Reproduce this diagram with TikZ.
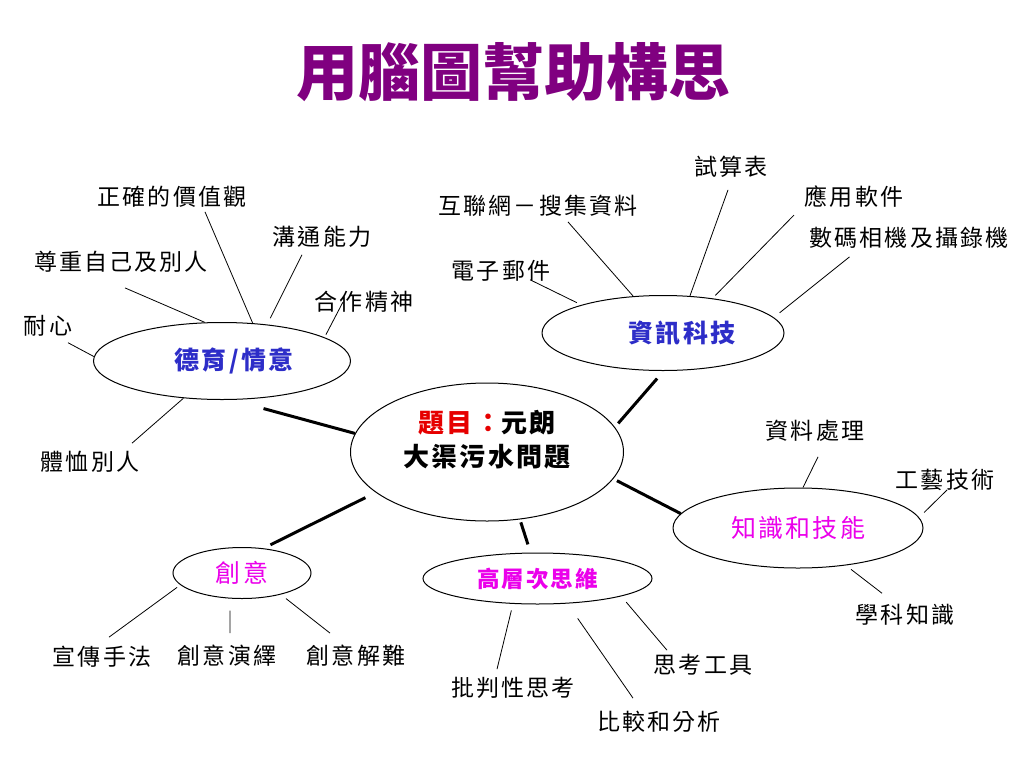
\documentclass[tikz,border=0pt]{standalone}
\usepackage{fontspec}
\usetikzlibrary{shapes.geometric}
\newfontfamily\cjk[LetterSpace=9]{Noto Sans CJK TC}
\newfontfamily\cjktitle{Noto Sans CJK TC}
\definecolor{P}{RGB}{128,0,128}
\definecolor{B}{RGB}{45,45,200}
\definecolor{M}{RGB}{235,0,235}
\definecolor{R}{RGB}{230,0,0}

\begin{document}
\begin{tikzpicture}[x=1pt,y=-1pt,
  word/.style={inner sep=0pt, font={\cjk\fontsize{23}{23}\selectfont}},
  hubtext/.style={inner sep=0pt, font={\cjk\fontsize{25}{25}\selectfont}},
  hubbold/.style={inner sep=0pt, font={\cjk\bfseries\fontsize{25}{25}\selectfont}},
  bubble/.style={draw=black, line width=1pt, ellipse, inner sep=0pt},
  twig/.style={black, line width=0.8pt},
  stem/.style={black, line width=3pt}]
  \useasboundingbox[fill=white] (0,0) rectangle (1024,768);
  \node[inner sep=0pt, text=P, font={\cjktitle\bfseries\fontsize{62}{62}\selectfont}] (title) at (513,72) {用腦圖幫助構思};

  \node[bubble, minimum width=273, minimum height=138] (c) at (487,452) {};
  \node[inner sep=0pt, align=center, font={\cjk\bfseries\fontsize{26}{34}\selectfont}] (ct) at ([yshift=12]c.center) {{\color{R}題目：}元朗\\大渠污水問題};

  \node[bubble, minimum width=257, minimum height=77] (dy) at (222,361) {};
  \node[hubbold, text=B] (dyt) at ([xshift=12]dy.center) {德育/情意};
  \node[bubble, minimum width=242, minimum height=75] (it) at (663,333) {};
  \node[hubbold, text=B] (itt) at ([xshift=19]it.center) {資訊科技};
  \node[bubble, hubtext, text=M, minimum width=250, minimum height=80] (kn) at (798,528) {知識和技能};
  \node[bubble, hubtext, text=M, minimum width=138, minimum height=51] (cr) at (242,573) {創意};
  \node[bubble, inner sep=0pt, text=M, font={\cjk\bfseries\fontsize{22.5}{22.5}\selectfont}, minimum width=229, minimum height=51] (ht) at (537.5,578.5) {高層次思維};

  \node[word] (zq) at (172,197) {正確的價值觀};
  \node[word] (gt) at (322,237) {溝通能力};
  \node[word] (zz) at (121,262) {尊重自己及別人};
  \node[word] (hz) at (364,302) {合作精神};
  \node[word] (nx) at (48,326) {耐心};
  \node[word] (tx) at (90,462) {體恤別人};
  \node[word] (ss) at (731,167) {試算表};
  \node[word] (yy) at (854,197) {應用軟件};
  \node[word] (hl) at (538,206) {互聯網－搜集資料};
  \node[word] (sm) at (909,238) {數碼相機及攝錄機};
  \node[word] (dz) at (501,271) {電子郵件};
  \node[word] (zl) at (815,431) {資料處理};
  \node[word] (gy) at (945,480) {工藝技術};
  \node[word] (xk) at (905,615) {學科知識};
  \node[word] (xc) at (102,657) {宣傳手法};
  \node[word] (cy) at (227,656) {創意演繹};
  \node[word] (cj) at (356,656) {創意解難};
  \node[word] (pp) at (513,688) {批判性思考};
  \node[word] (bj) at (659,722) {比較和分析};
  \node[word] (sk) at (703,665) {思考工具};

  \draw[stem, shorten <=33] (dy.-76) -- (c.172);
  \draw[stem, shorten <=10, shorten >=5] (it.-89) -- (c.11);
  \draw[stem, shorten <=4] (c.-12) -- (kn.173);
  \draw[stem, shorten <=3, shorten >=8.6] (c.-64.5) -- (ht.105);
  \draw[stem, shorten <=11.5, shorten >=7.8] (c.-160) -- (cr.49);

  \draw[twig] ([xshift=33,yshift=-4]zq.south) -- (dy.51);
  \draw[twig, shorten >=7] ([xshift=-20,yshift=-7]gt.south) -- (dy.39);
  \draw[twig] ([xshift=4,yshift=-15]zz.south) -- (dy.114);
  \draw[twig, shorten >=3] ([xshift=-21,yshift=11]hz.south) -- (dy.13);
  \draw[twig] ([xshift=20,yshift=-6]nx.south) -- (dy.178);
  \draw[twig] ([xshift=42,yshift=8]tx.north) -- (dy.-136);

  \draw[twig] ([xshift=-3,yshift=-12]ss.south) -- (it.54);
  \draw[twig, shorten >=4] ([xshift=-60,yshift=-7]yy.south) -- (it.35);
  \draw[twig] ([xshift=30,yshift=-5]hl.south) -- (it.129);
  \draw[twig, shorten >=7.5] ([xshift=-59.5,yshift=-8]sm.south) -- (it.8.5);
  \draw[twig, shorten >=5] ([xshift=29,yshift=2]dz.south) -- (it.161);

  \draw[twig] ([xshift=3,yshift=-15]zl.south) -- (kn.83);
  \draw[twig, shorten >=7] ([xshift=2,yshift=1]gy.south) -- (kn.5);
  \draw[twig, shorten >=6.5] ([xshift=-23,yshift=11]xk.north) -- (kn.-38);

  \draw[twig, shorten >=4] ([xshift=7,yshift=9]xc.north) -- (cr.-169.5);
  \draw[twig, shorten >=12] ([xshift=3,yshift=12]cy.north) -- (cr.-115);
  \draw[twig, shorten >=6.5] ([xshift=-26,yshift=12]cj.north) -- (cr.-29);

  \draw[twig, shorten >=6.7] ([xshift=-16,yshift=8]pp.north) -- (ht.-134);
  \draw[twig, shorten >=18] ([xshift=-26,yshift=13]bj.north) -- (ht.-40);
  \draw[twig, shorten >=7.7] ([xshift=-36,yshift=4]sk.north) -- (ht.-12);
\end{tikzpicture}
\end{document}
